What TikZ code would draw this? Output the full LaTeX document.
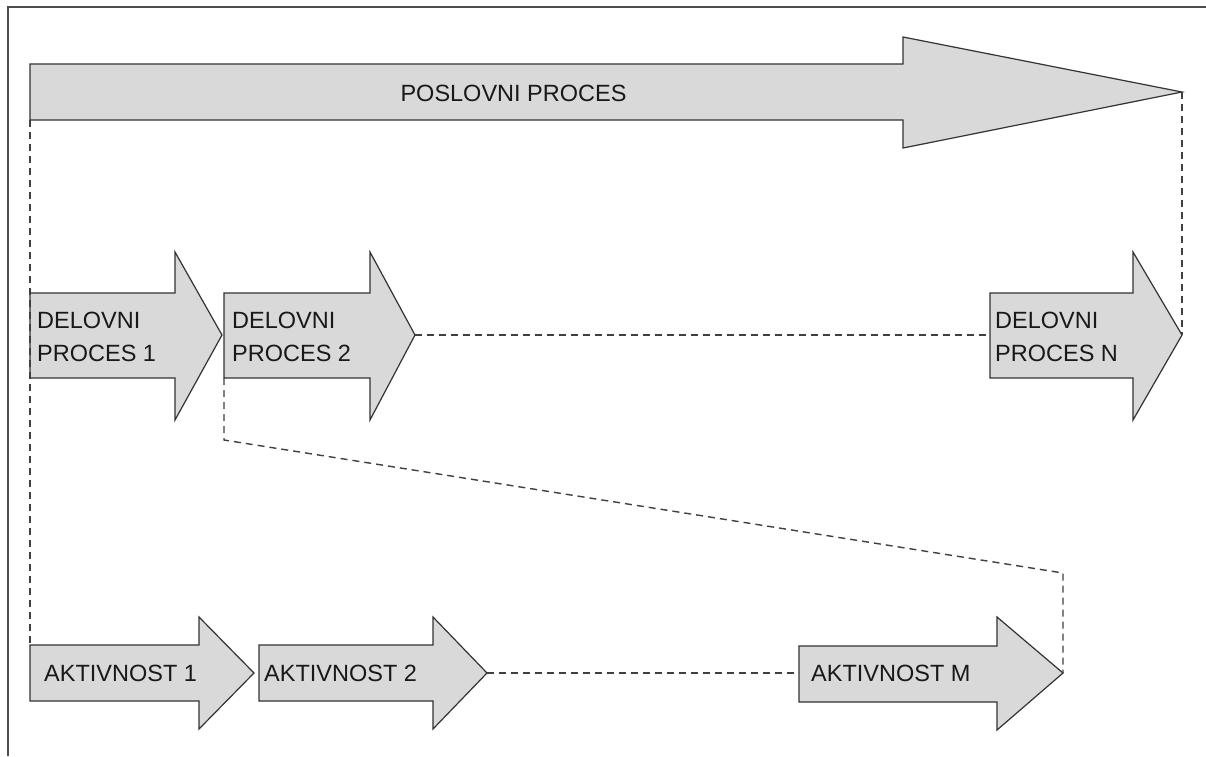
\documentclass[tikz,border=0pt]{standalone}
\usepackage{fontspec}
\newfontfamily\lblfont{Liberation Sans}
\tikzset{
  blk/.style={draw=black!80, fill=gray!30, line width=1.2pt, line join=miter},
  conn/.style={draw=black!75, dash pattern=on 7pt off 5pt, line width=1.4pt},
  lbl/.style={font=\lblfont\fontsize{23.5}{33}\selectfont, text=black!90, inner sep=0pt, align=left},
  frameline/.style={draw=black!70, line width=1.6pt}
}
% #1 name, #2 x left, #3 y top, #4 y bottom, #5 x head, #6 head top, #7 head bottom, #8 x tip, #9 y tip
\newcommand{\blockarrow}[9]{%
  \draw[blk] (#2,#3) -- (#5,#3) -- (#5,#6) -- (#8,#9) -- (#5,#7) -- (#5,#4) -- (#2,#4) -- cycle;
  \coordinate (#1-tl) at (#2,#3);
  \coordinate (#1-bl) at (#2,#4);
  \coordinate (#1-tip) at (#8,#9);
  \coordinate (#1-l) at (#2,#9);
}
\begin{document}
\begin{tikzpicture}[x=1pt,y=-1pt]
  \useasboundingbox (0,0) rectangle (1206,756);
  \fill[white] (0,0) rectangle (1206,756);
  \draw[frameline] (8,756) -- (8,7) -- (1206,7);

  % arrows
  \blockarrow{P}{30}{64}{120}{903}{37}{148}{1182}{92}
  \blockarrow{D1}{30}{293}{378}{175}{252}{420}{222}{335}
  \blockarrow{D2}{224}{293}{378}{370}{252}{420}{415}{335}
  \blockarrow{DN}{990}{293}{378}{1133}{252}{420}{1182}{335}
  \blockarrow{A1}{30}{645}{701}{199}{617}{729}{254}{673}
  \blockarrow{A2}{259}{645}{701}{433}{617}{729}{487}{673}
  \blockarrow{AM}{799}{646}{702}{997}{617}{730}{1063}{673}

  % labels
  \node[lbl] (tP) at (513.5,93) {POSLOVNI PROCES};
  \node[lbl, anchor=west] (tD1) at (37,337) {DELOVNI\\PROCES 1};
  \node[lbl, anchor=west] (tD2) at (232,337) {DELOVNI\\PROCES 2};
  \node[lbl, anchor=west] (tDN) at (995,337) {DELOVNI\\PROCES N};
  \node[lbl, anchor=west] (tA1) at (44,673.5) {AKTIVNOST 1};
  \node[lbl, anchor=west] (tA2) at (264,673.5) {AKTIVNOST 2};
  \node[lbl, anchor=west] (tAM) at (811,673.5) {AKTIVNOST M};

  % connectors
  \coordinate (bend1) at (224,440);
  \coordinate (bend2) at (1063,573);
  \draw[conn] (P-bl) -- (A1-tl);
  \draw[conn] (P-tip) -- (DN-tip);
  \draw[conn] (D2-tip) -- (DN-l);
  \draw[conn] (D2-bl) -- (bend1) -- (bend2) -- (AM-tip);
  \draw[conn] (A2-tip) -- (AM-l);
\end{tikzpicture}
\end{document}
